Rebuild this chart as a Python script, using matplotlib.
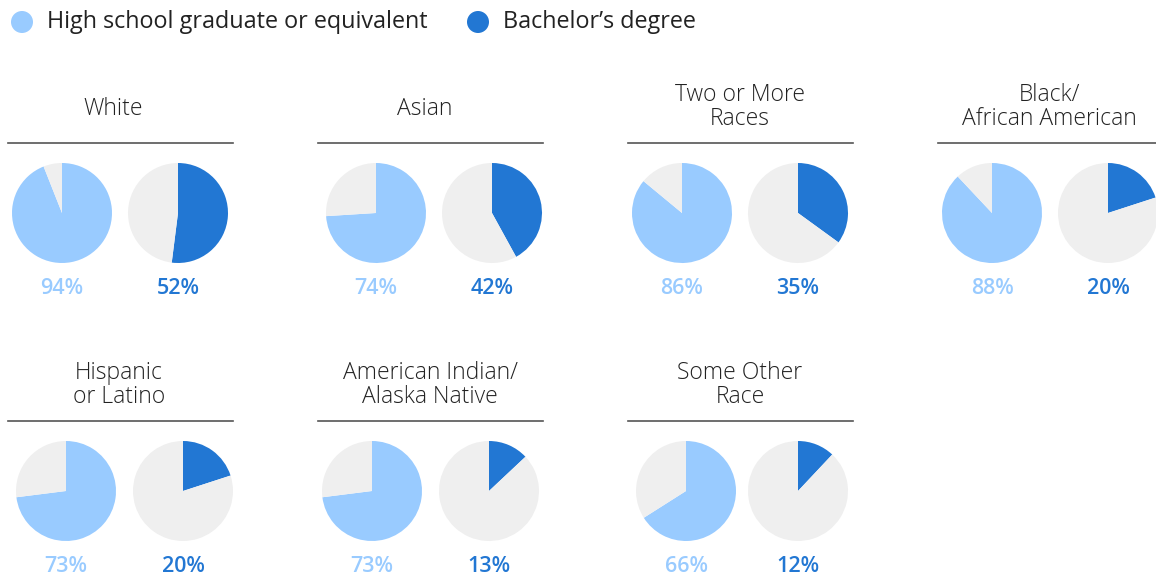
import matplotlib
matplotlib.use("Agg")
import matplotlib.pyplot as plt
from matplotlib.patches import Circle

plt.rcParams['font.family'] = ['Open Sans', 'DejaVu Sans']

groups = ["White", "Asian", "Two or More\nRaces", "Black/\nAfrican American",
          "Hispanic\nor Latino", "American Indian/\nAlaska Native", "Some Other\nRace"]
high_school = [94, 74, 86, 88, 73, 73, 66]
bachelors = [52, 42, 35, 20, 20, 13, 12]
legend_labels = ["High school graduate or equivalent", "Bachelor\u2019s degree"]

LIGHT = "#99cbff"
DARK = "#2277d3"
GREY = "#efefef"

W, H = 1156, 577
fig = plt.figure(figsize=(W / 100, H / 100), dpi=100)
fig.patch.set_facecolor("white")

# background axes in pixel coordinates for text / rules
bg = fig.add_axes([0, 0, 1, 1])
bg.set_xlim(0, W)
bg.set_ylim(H, 0)
bg.axis("off")

# legend
for lx, lab, col in zip([22, 478], legend_labels, [LIGHT, DARK]):
    bg.add_patch(Circle((lx, 22), 11, color=col, lw=0))
    bg.text(lx + 25, 22, lab, fontsize=16.8, va="center", ha="left", color="#222222")

col_x = [8, 318, 628, 938]
row_y = [143, 421]
panel_w = 225
R = 50
# pie centre offsets from the panel's left edge (left pie, right pie)
offsets = [(54, 170), (58, 174), (54, 170), (54, 170),
           (58, 175), (54, 171), (58, 170)]
title_off = [105, 107, 112, 111, 111, 112, 112]


def pie_ax(cx, cy):
    ax = fig.add_axes([(cx - R) / W, 1 - (cy + R) / H, 2 * R / W, 2 * R / H])
    ax.set_xlim(-1, 1)
    ax.set_ylim(-1, 1)
    ax.axis("off")
    return ax


for i, (g, hs, ba) in enumerate(zip(groups, high_school, bachelors)):
    r, c = divmod(i, 4)
    x0 = col_x[c]
    ly = row_y[r]
    x1 = min(x0 + panel_w, W)
    bg.plot([x0, x1], [ly, ly], color="#555555", lw=1.2)
    ty = ly - 34 if "\n" not in g else ly - 36
    bg.text(x0 + title_off[i], ty, g, ha="center", va="center",
            fontsize=16.5, fontweight="light", color="#222222", linespacing=1.0)

    for off, val, col in zip(offsets[i], (hs, ba), (LIGHT, DARK)):
        cx, cy = x0 + off, ly + 70
        ax = pie_ax(cx, cy)
        ax.pie([val, 100 - val], colors=[col, GREY], startangle=90,
               counterclock=False, radius=1.0,
               wedgeprops=dict(linewidth=0))
        ax.set_xlim(-1, 1)
        ax.set_ylim(-1, 1)
        bg.text(cx, ly + 146, f"{val}%", ha="center", va="center",
                fontsize=15.5, fontweight="semibold", color=col)

fig.savefig("out.png", dpi=100)
